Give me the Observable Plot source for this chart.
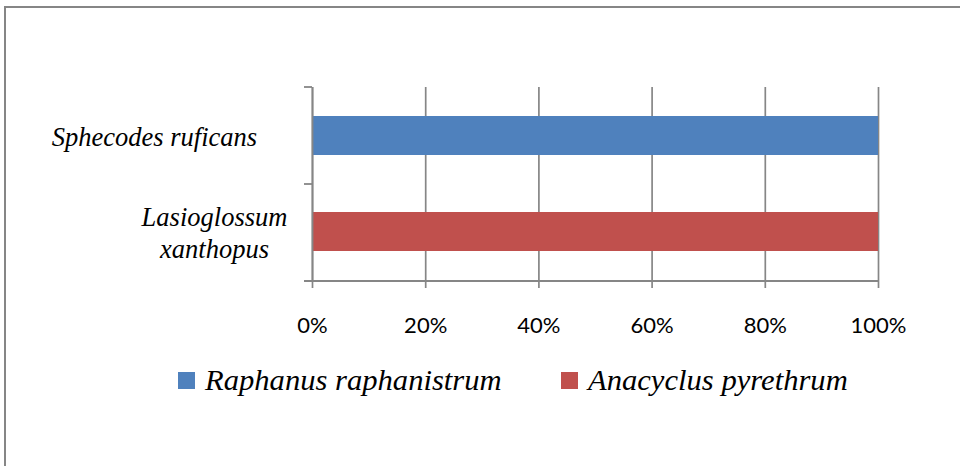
<!DOCTYPE html>
<html>
<head>
<meta charset="utf-8">
<script src="https://cdn.jsdelivr.net/npm/d3@7"></script>
<script src="https://cdn.jsdelivr.net/npm/@observablehq/plot@0.6"></script>
<style>
  html, body { margin: 0; padding: 0; background: #fff; }
  #wrap { position: relative; width: 960px; height: 466px; overflow: hidden; background: #fff; }
  #frame { position: absolute; left: 4px; top: 6px; width: 1000px; height: 1000px; border: 2px solid #868686; box-sizing: border-box; }
  #chart { position: absolute; left: 0; top: 0; }
  #legend { position: absolute; left: 0; top: 362px; width: 960px; height: 40px; font-family: "Liberation Serif", "Times New Roman", serif; font-style: italic; font-size: 30px; color: #000; }
  .item { position: absolute; top: 0; height: 40px; }
  .sw { position: absolute; top: 10px; width: 17px; height: 17px; }
  .lab { position: absolute; top: -1px; left: 27px; white-space: nowrap; line-height: 38px; display: inline-block; transform: scaleX(1.02); transform-origin: left center; }
</style>
</head>
<body>
<div id="wrap">
  <div id="frame"></div>
  <div id="chart"></div>
  <div id="legend"></div>
</div>
<script>
// Data
const bees = ["Sphecodes ruficans", "Lasioglossum xanthopus"];
const beeLabels = ["Sphecodes ruficans", "Lasioglossum\nxanthopus"];
const plants = ["Raphanus raphanistrum", "Anacyclus pyrethrum"];
const shares = [1, 1];
const colors = ["#4F81BD", "#C0504D"];
const xTicks = [0, 0.2, 0.4, 0.6, 0.8, 1];

const data = bees.map((b, i) => ({bee: b, plant: plants[i], share: shares[i], label: beeLabels[i]}));
const gray = "#868686";

// Boundary ticks of the category axis plus the bottom axis line
function categoryAxis(index, scales, values, dimensions) {
  const {marginTop, marginBottom, marginLeft, marginRight, width, height} = dimensions;
  const top = marginTop, bottom = height - marginBottom;
  const n = bees.length;
  const step = (bottom - top) / n;
  const g = d3.create("svg:g").attr("stroke", gray).attr("stroke-width", 1.8);
  for (let i = 0; i <= n; i++) {
    const y = top + i * step;
    g.append("line").attr("x1", marginLeft - 8).attr("x2", marginLeft).attr("y1", y).attr("y2", y);
  }
  g.append("line").attr("x1", marginLeft - 8).attr("x2", width - marginRight).attr("y1", bottom).attr("y2", bottom);
  return g.node();
}

const labelFont = {fontFamily: "Liberation Serif, Times New Roman, serif", fontStyle: "italic", fontSize: 26.5, fill: "#000", lineHeight: 1.19};

const chart = Plot.plot({
  width: 960,
  height: 340,
  marginTop: 87,
  marginBottom: 59,
  marginLeft: 312,
  marginRight: 82,
  style: {fontFamily: "Lato, sans-serif", fontSize: "22px", color: "#000", background: "transparent", overflow: "visible"},
  x: {domain: [0, 1], axis: null, label: null},
  y: {domain: bees, axis: null, label: null, paddingInner: 0.59, paddingOuter: 0.3},
  color: {domain: plants, range: colors},
  marks: [
    Plot.gridX(xTicks, {stroke: gray, strokeOpacity: 1, strokeWidth: 1.7}),
    Plot.barX(data, {x: "share", y: "bee", fill: "plant"}),
    Plot.ruleX([0], {stroke: gray, strokeWidth: 1.8}),
    categoryAxis,
    Plot.axisX(xTicks, {label: null, tickFormat: d3.format(".0%"), tickSize: 7, tickPadding: 29, stroke: gray, strokeWidth: 1.7, fill: "#000", fontSize: 22, fontFamily: "Lato, sans-serif"}),
    Plot.text(data.filter(d => d.bee === bees[0]), {y: "bee", text: "label", frameAnchor: "left", textAnchor: "middle", dx: -158, ...labelFont}),
    Plot.text(data.filter(d => d.bee === bees[1]), {y: "bee", text: "label", frameAnchor: "left", textAnchor: "middle", dx: -98, ...labelFont})
  ]
});
document.getElementById("chart").appendChild(chart);

// Legend
const legendPos = [178, 561];
const legend = document.getElementById("legend");
plants.forEach((p, i) => {
  const item = document.createElement("div");
  item.className = "item";
  item.style.left = legendPos[i] + "px";
  const sw = document.createElement("div");
  sw.className = "sw";
  sw.style.background = colors[i];
  const lab = document.createElement("span");
  lab.className = "lab";
  lab.textContent = p;
  item.appendChild(sw);
  item.appendChild(lab);
  legend.appendChild(item);
});
</script>
</body>
</html>
